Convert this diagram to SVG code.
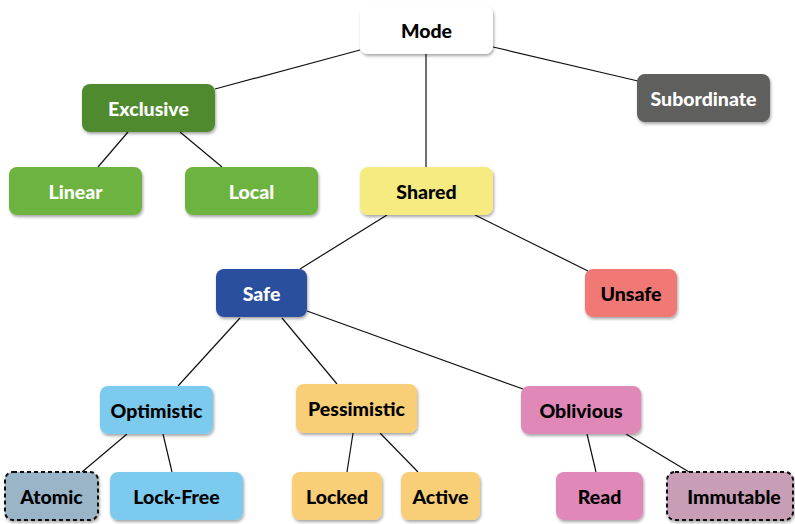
<svg xmlns="http://www.w3.org/2000/svg" width="795" height="524" viewBox="0 0 795 524">
<defs>
<filter id="sh" x="-10%" y="-10%" width="130%" height="140%">
<feDropShadow dx="1" dy="2" stdDeviation="1.5" flood-color="#000" flood-opacity="0.35"/>
</filter>
<style>
.n rect{filter:url(#sh)}
.d rect{stroke:#111;stroke-width:2;stroke-dasharray:4 3}
text{font-family:"Lato","Open Sans","Liberation Sans",sans-serif;font-weight:900;font-size:19.5px;text-anchor:middle}
.w text{fill:#fff}
.b text{fill:#000}
#edges line{stroke:#111;stroke-width:1.2}
</style>
</defs>
<rect width="795" height="524" fill="#fff"/>
<g id="edges">
<line x1="360" y1="50" x2="215" y2="89"/>
<line x1="493" y1="47" x2="638" y2="81"/>
<line x1="426" y1="54" x2="426" y2="167"/>
<line x1="128" y1="132" x2="98" y2="167"/>
<line x1="180" y1="132" x2="222" y2="167"/>
<line x1="387" y1="215" x2="300" y2="269"/>
<line x1="475" y1="215" x2="588" y2="271"/>
<line x1="240" y1="318" x2="178" y2="386"/>
<line x1="282" y1="318" x2="337" y2="384"/>
<line x1="307" y1="311" x2="523" y2="389"/>
<line x1="127" y1="434" x2="82" y2="472"/>
<line x1="163" y1="434" x2="172" y2="472"/>
<line x1="353" y1="433" x2="347" y2="472"/>
<line x1="380" y1="433" x2="418" y2="472"/>
<line x1="587" y1="434" x2="596" y2="472"/>
<line x1="626" y1="434" x2="689" y2="472"/>
</g>
<g id="mode" class="n b"><rect x="360" y="6" width="133" height="48" rx="8" fill="#ffffff"/><text x="426.5" y="38">Mode</text></g>
<g id="exclusive" class="n w"><rect x="82" y="84" width="133" height="48" rx="8" fill="#4f8a2f"/><text x="148.5" y="116">Exclusive</text></g>
<g id="subordinate" class="n w"><rect x="637" y="74" width="133" height="48" rx="8" fill="#5f5e5d"/><text x="703.5" y="106">Subordinate</text></g>
<g id="linear" class="n w"><rect x="9" y="167" width="133" height="48" rx="8" fill="#6db33f"/><text x="75.5" y="199">Linear</text></g>
<g id="local" class="n w"><rect x="185" y="167" width="133" height="48" rx="8" fill="#6db33f"/><text x="251.5" y="199">Local</text></g>
<g id="shared" class="n b"><rect x="360" y="167" width="133" height="48" rx="8" fill="#f5eb80"/><text x="426.5" y="199">Shared</text></g>
<g id="safe" class="n w"><rect x="216" y="269" width="91" height="48" rx="8" fill="#2b4f9e"/><text x="261.5" y="301">Safe</text></g>
<g id="unsafe" class="n b"><rect x="585" y="269" width="92" height="48" rx="8" fill="#f07874"/><text x="631" y="301">Unsafe</text></g>
<g id="optimistic" class="n b"><rect x="100" y="386" width="113" height="48" rx="8" fill="#7ccbef"/><text x="156.5" y="418">Optimistic</text></g>
<g id="pessimistic" class="n b"><rect x="296" y="384" width="121" height="49" rx="8" fill="#f8ce77"/><text x="356.5" y="416">Pessimistic</text></g>
<g id="oblivious" class="n b"><rect x="521" y="386" width="120" height="48" rx="8" fill="#e088b8"/><text x="581" y="418">Oblivious</text></g>
<g id="atomic" class="n b d"><rect x="5" y="472" width="93" height="48" rx="8" fill="#9bb5c8"/><text x="51.5" y="504">Atomic</text></g>
<g id="lockfree" class="n b"><rect x="110" y="472" width="133" height="48" rx="8" fill="#7ccbef"/><text x="176.5" y="504">Lock-Free</text></g>
<g id="locked" class="n b"><rect x="292" y="472" width="90" height="48" rx="8" fill="#f8ce77"/><text x="337" y="504">Locked</text></g>
<g id="active" class="n b"><rect x="401" y="472" width="79" height="48" rx="8" fill="#f8ce77"/><text x="440.5" y="504">Active</text></g>
<g id="read" class="n b"><rect x="556" y="472" width="87" height="48" rx="8" fill="#e088b8"/><text x="599.5" y="504">Read</text></g>
<g id="immutable" class="n b d"><rect x="667" y="472" width="126" height="48" rx="8" fill="#c89db6"/><text x="734" y="504">Immutable</text></g>
</svg>
